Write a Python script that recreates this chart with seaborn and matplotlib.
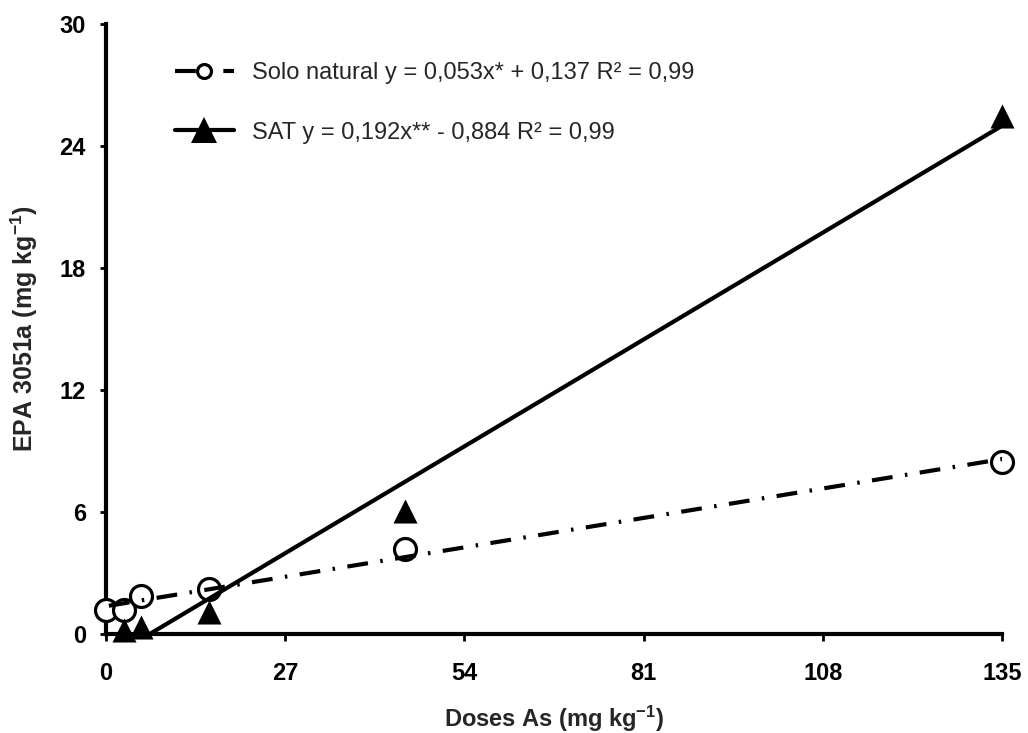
import numpy as np
import pandas as pd
import matplotlib
matplotlib.use("Agg")
import matplotlib.pyplot as plt
from matplotlib.lines import Line2D
import seaborn as sns

# ---- data ----
doses_natural = [0, 2.7, 5.3, 15.5, 45, 135]
epa_natural = [1.18, 1.2, 1.87, 2.2, 4.2, 8.46]
doses_sat = [2.7, 5.3, 15.5, 45, 135]
epa_sat = [0.2, 0.35, 1.1, 6.05, 25.5]
x_ticks = [0, 27, 54, 81, 108, 135]
y_ticks = [0, 6, 12, 18, 24, 30]
label_natural = "Solo natural y = 0,053x* + 0,137 R² = 0,99"
label_sat = "SAT y = 0,192x** - 0,884 R² = 0,99"

sns.set_style("white")
plt.rcParams["font.family"] = ["Liberation Sans", "DejaVu Sans"]
plt.rcParams["mathtext.fontset"] = "custom"
plt.rcParams["mathtext.bf"] = "Liberation Sans:bold"
plt.rcParams["mathtext.rm"] = "Liberation Sans:bold"
plt.rcParams["mathtext.default"] = "bf"

df_nat = pd.DataFrame({"dose": doses_natural, "epa": epa_natural})
df_sat = pd.DataFrame({"dose": doses_sat, "epa": epa_sat})

fig = plt.figure(figsize=(10.28, 7.33), dpi=100)
ax = fig.add_axes([106/1028, 1-634/733, (1002-106)/1028, (634-24)/733])

dashdot = (0, (5, 3, 0.6, 3))
sns.regplot(data=df_nat, x="dose", y="epa", ax=ax, ci=None, truncate=False,
            marker="o",
            scatter_kws=dict(s=250, facecolors="white", edgecolors="black",
                             linewidths=2.3, clip_on=False, zorder=4, alpha=1),
            line_kws=dict(color="black", lw=3, linestyle=dashdot, zorder=6))
sns.regplot(data=df_sat, x="dose", y="epa", ax=ax, ci=None, truncate=False,
            marker="^",
            scatter_kws=dict(s=300, color="black", linewidths=0,
                             clip_on=False, zorder=5, alpha=1),
            line_kws=dict(color="black", lw=3, linestyle="-", zorder=6))

ax.set_xlim(0, 135)
ax.set_ylim(0, 30)
ax.set_xticks(x_ticks)
ax.set_yticks(y_ticks)
ax.set_xlabel(r"Doses As (mg kg$^{-1}$)", fontsize=17, fontweight="bold")
ax.set_ylabel(r"EPA 3051a (mg kg$^{-1}$)", fontsize=18, fontweight="bold")
ax.xaxis.set_label_coords(0.5, -0.114)
ax.yaxis.set_label_coords(-0.074, 0.5)
for lab in ax.get_xticklabels() + ax.get_yticklabels():
    lab.set_fontweight("bold")
ax.tick_params(axis="both", labelsize=17, direction="out", width=2,
               color="black", labelcolor="black", left=True, bottom=True)
ax.tick_params(axis="y", length=4.5, pad=10)
ax.tick_params(axis="x", length=5, pad=15)

sns.despine(ax=ax)
for s in ["left", "bottom"]:
    ax.spines[s].set_linewidth(3)
    ax.spines[s].set_color("black")

handles = [
    Line2D([], [], color="black", lw=3, linestyle=dashdot, marker="o",
           markersize=10, markerfacecolor="white", markeredgecolor="black",
           markeredgewidth=2.3),
    Line2D([], [], color="black", lw=3, linestyle="-", marker="^",
           markersize=19, markerfacecolor="black", markeredgewidth=0),
]
ax.legend(handles, [label_natural, label_sat], loc="upper left",
          bbox_to_anchor=(163/1028, 1-50/733), bbox_transform=fig.transFigure,
          frameon=False, fontsize=17, labelspacing=1.6, handlelength=2.5,
          handletextpad=0.75, borderpad=0)

fig.savefig("out.png", dpi=100)
